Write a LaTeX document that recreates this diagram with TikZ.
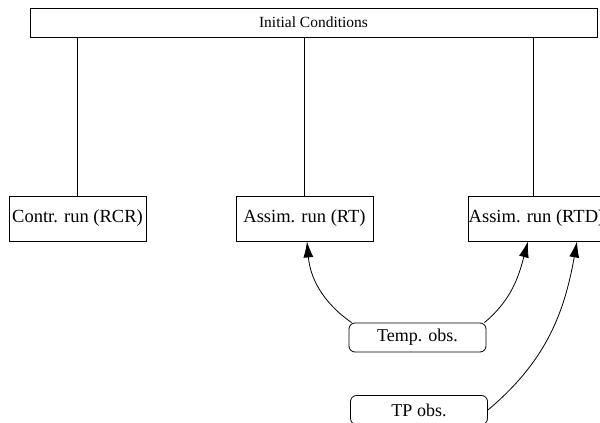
\documentclass[tikz,border=0pt]{standalone}
\usepackage{fontspec}
\setmainfont{Liberation Serif}
\usetikzlibrary{arrows.meta,calc}
\tikzset{
  runbox/.style={draw,line width=0.8pt,minimum width=137pt,minimum height=45pt,inner sep=0pt,font=\fontsize{18.5}{21}\selectfont},
  obsbox/.style={draw,line width=0.8pt,rounded corners=6pt,minimum width=137pt,minimum height=29pt,inner sep=0pt,font=\fontsize{18}{21}\selectfont},
  icbox/.style={draw,line width=0.8pt,minimum width=567pt,minimum height=29pt,inner sep=0pt,font=\fontsize{15.5}{18}\selectfont},
  link/.style={line width=0.8pt},
  obsarrow/.style={line width=0.8pt,-{Latex[length=16pt,width=10pt]}}
}
\begin{document}
\begin{tikzpicture}[x=1pt,y=-1pt]
\useasboundingbox (0,0) rectangle (600,423);
\node[icbox] (ic) at (313.5,22.5) {Initial Conditions};
\node[runbox] (rcr) at (77.5,218.5) {Contr. run (RCR)};
\node[runbox] (rt) at (304.5,218.5) {Assim. run (RT)};
\node[runbox] (rtd) at (536.5,218.5) {Assim. run (RTD)};
\node[obsbox] (temp) at (417.5,337.5) {Temp. obs.};
\node[obsbox] (tp) at (419,410) {TP obs.};
\draw[link] (rcr.north) -- (rcr.north |- ic.south);
\draw[link] (rt.north) -- (rt.north |- ic.south);
\draw[link] ([xshift=-3.5pt]rtd.north) -- ([xshift=-3.5pt]rtd.north |- ic.south);
\draw[obsarrow] ([xshift=3pt]temp.north west) to[out=145,in=-85] ([xshift=2.5pt]rt.south);
\draw[obsarrow] ([xshift=-2pt]temp.north east) to[out=40,in=-105] ([xshift=-8.5pt]rtd.south);
\draw[obsarrow] (tp.east) to[out=40,in=-100] ([xshift=40.5pt]rtd.south);
\end{tikzpicture}
\end{document}
